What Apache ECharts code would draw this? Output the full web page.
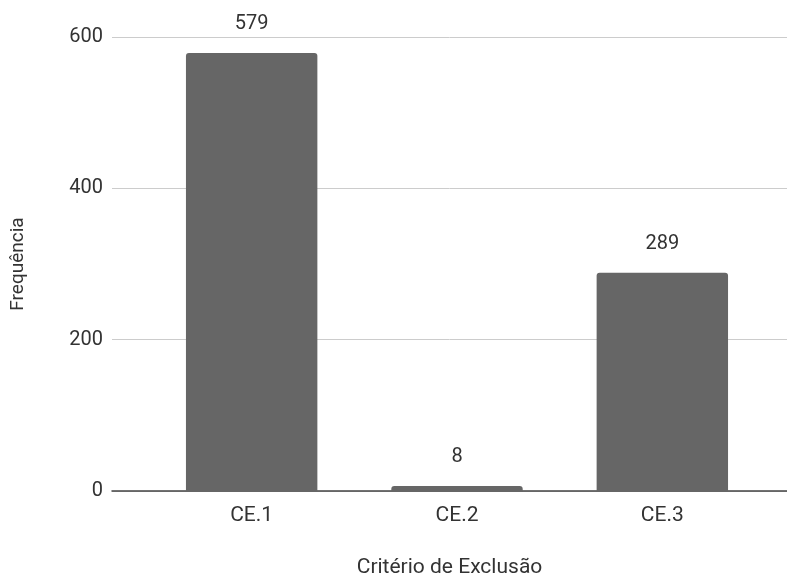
<!DOCTYPE html>
<html>
<head>
<meta charset="utf-8">
<script src="https://cdn.jsdelivr.net/npm/echarts@6/dist/echarts.min.js"></script>
<style>
  html, body { margin: 0; padding: 0; background: #fff; }
  #chart { width: 787px; height: 583px; }
</style>
</head>
<body>
<div id="chart"></div>
<script>
// Exclusion criteria and how often each one applied
const categories = ['CE.1', 'CE.2', 'CE.3'];
const frequencies = [579, 8, 289];
const yTicks = [0, 200, 400, 600];

const textColor = '#333';
const font = 'Roboto';
const yMin = yTicks[0];
const yMax = yTicks[yTicks.length - 1];
const yStep = yTicks[1] - yTicks[0];

const chart = echarts.init(document.getElementById('chart'), null, { renderer: 'canvas' });
chart.setOption({
  animation: false,
  backgroundColor: '#fff',
  grid: [
    // bar area (categories are spaced inside the wider frame)
    { left: 149, right: 22, top: 37, bottom: 91 },
    // frame: gridlines, value ticks and baseline run across the full width
    { left: 112, right: 0, top: 37, bottom: 91 }
  ],
  xAxis: [
    {
      gridIndex: 0,
      type: 'category',
      data: categories,
      axisLine: { show: false },
      axisTick: { show: false },
      axisLabel: { color: textColor, fontSize: 21, fontFamily: font, margin: 13 }
    },
    {
      gridIndex: 1,
      type: 'category',
      data: categories,
      name: 'Critério de Exclusão',
      nameLocation: 'middle',
      nameGap: 66,
      nameTextStyle: { color: textColor, fontSize: 21, fontFamily: font },
      axisLine: { show: true, lineStyle: { color: '#444', width: 1.5 } },
      axisTick: { show: false },
      axisLabel: { show: false }
    }
  ],
  yAxis: [
    {
      gridIndex: 0,
      type: 'value',
      min: yMin, max: yMax, interval: yStep,
      show: false
    },
    {
      gridIndex: 1,
      type: 'value',
      min: yMin, max: yMax, interval: yStep,
      name: 'Frequência',
      nameLocation: 'middle',
      nameGap: 84,
      nameTextStyle: { color: textColor, fontSize: 19, fontFamily: font },
      axisLine: { show: false },
      axisTick: { show: false },
      axisLabel: { color: textColor, fontSize: 20, fontFamily: font, margin: 9 },
      splitLine: { lineStyle: { color: '#ccc', width: 1 } }
    }
  ],
  series: [{
    type: 'bar',
    xAxisIndex: 0,
    yAxisIndex: 0,
    data: frequencies,
    barWidth: '64%',
    itemStyle: { color: '#666666', borderRadius: [3, 3, 0, 0] },
    label: {
      show: true,
      position: 'top',
      distance: 19,
      color: textColor,
      fontSize: 20,
      fontFamily: font
    }
  }]
});
</script>
</body>
</html>
